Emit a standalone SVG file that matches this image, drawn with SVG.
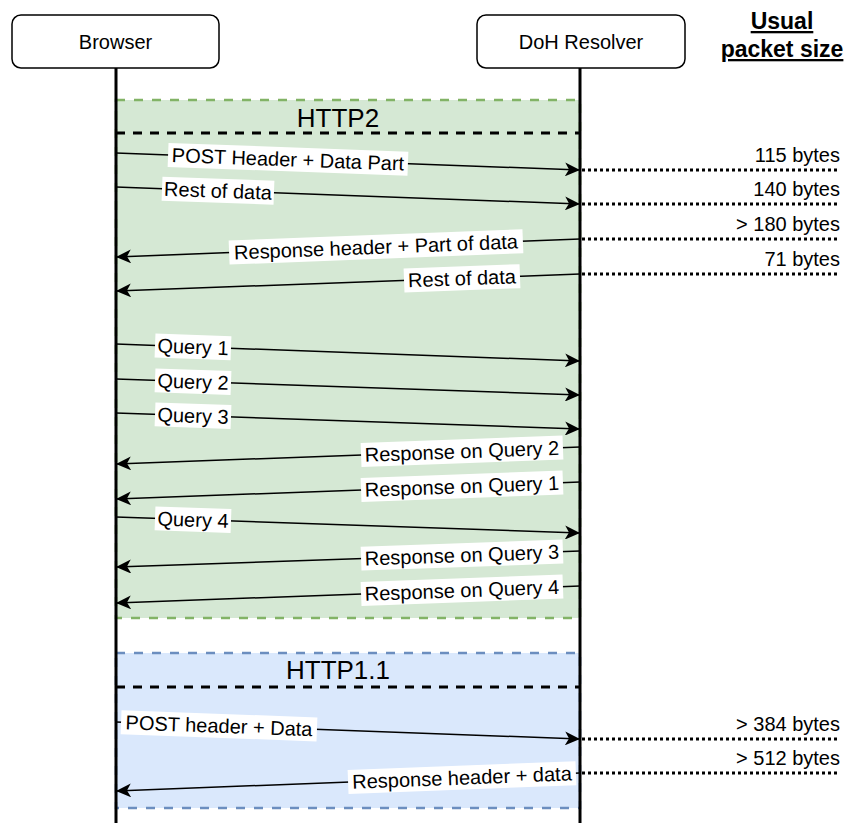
<svg xmlns="http://www.w3.org/2000/svg" width="852" height="823" viewBox="0 0 852 823">
<style>
text{font-family:"Liberation Sans",Arial,sans-serif;fill:#000}
.box{fill:#fff;stroke:#000;stroke-width:1.5}
.life{stroke:#000;stroke-width:3;fill:none}
.msg{stroke:#000;stroke-width:1.5;fill:none;marker-end:url(#arr)}
.lbl{font-size:20px;text-anchor:middle}
.lblbg{fill:#fff}
.dot{stroke:#000;stroke-width:3;stroke-dasharray:3 3;fill:none}
.size{font-size:20px;text-anchor:end}
.div{stroke:#000;stroke-width:3;stroke-dasharray:9 8;fill:none}
.title{font-size:26px;text-anchor:middle}
</style>
<defs>
<marker id="arr" markerUnits="userSpaceOnUse" markerWidth="16" markerHeight="14" viewBox="0 0 16 14" refX="15" refY="7" orient="auto">
<path d="M0,0 L15,7 L0,14 L4,7 Z" fill="#000"/>
</marker>
</defs>

<g id="http2-frame">
<rect x="116" y="100" width="464" height="518" fill="#d5e8d4" stroke="#82b366" stroke-width="2.5" stroke-dasharray="9 9"/>
<text class="title" x="338" y="127">HTTP2</text>
</g>
<g id="http11-frame">
<rect x="116" y="653" width="464" height="155" fill="#dae8fc" stroke="#6c8ebf" stroke-width="2.5" stroke-dasharray="9 9"/>
<text class="title" x="338" y="679">HTTP1.1</text>
</g>

<g id="lifelines">
<line class="life" x1="116" y1="68" x2="116" y2="823"/>
<line class="life" x1="580" y1="68" x2="580" y2="823"/>
</g>

<g id="dividers">
<line class="div" x1="116" y1="133" x2="580" y2="133"/>
<line class="div" x1="116" y1="687" x2="580" y2="687"/>
</g>

<g id="browser">
<rect class="box" x="12" y="15" width="207" height="53" rx="9"/>
<text x="115.5" y="49" font-size="20" text-anchor="middle">Browser</text>
</g>
<g id="doh-resolver">
<rect class="box" x="477" y="15" width="208" height="53" rx="9"/>
<text x="581" y="49" font-size="20" text-anchor="middle">DoH Resolver</text>
</g>
<g id="packet-size-header">
<text x="782" y="29" font-size="23" font-weight="bold" text-anchor="middle" text-decoration="underline">Usual</text>
<text x="782" y="57" font-size="23" font-weight="bold" text-anchor="middle" text-decoration="underline">packet size</text>
</g>

<g id="connectors">
<line class="msg" x1="116" y1="153" x2="580" y2="170"/>
<line class="msg" x1="116" y1="187" x2="580" y2="204"/>
<line class="msg" x1="580" y1="239" x2="116" y2="257"/>
<line class="msg" x1="580" y1="274" x2="116" y2="291"/>
<line class="msg" x1="116" y1="344" x2="580" y2="361"/>
<line class="msg" x1="116" y1="379" x2="580" y2="395"/>
<line class="msg" x1="116" y1="413" x2="580" y2="429"/>
<line class="msg" x1="580" y1="447" x2="116" y2="464"/>
<line class="msg" x1="580" y1="482" x2="116" y2="499"/>
<line class="msg" x1="116" y1="517" x2="580" y2="533"/>
<line class="msg" x1="580" y1="551" x2="116" y2="567"/>
<line class="msg" x1="580" y1="586" x2="116" y2="603"/>
<line class="msg" x1="116" y1="722" x2="580" y2="739"/>
<line class="msg" x1="580" y1="773" x2="116" y2="791"/>
<line class="dot" x1="582" y1="170" x2="840" y2="170"/>
<line class="dot" x1="582" y1="204" x2="840" y2="204"/>
<line class="dot" x1="582" y1="239" x2="840" y2="239"/>
<line class="dot" x1="582" y1="274" x2="840" y2="274"/>
<line class="dot" x1="582" y1="739" x2="840" y2="739"/>
<line class="dot" x1="582" y1="773" x2="840" y2="773"/>
</g>

<g id="labels">
<g transform="translate(288,159.3) rotate(2.1)"><rect class="lblbg" x="-120" y="-12" width="240" height="24"/><text class="lbl" y="7">POST Header + Data Part</text></g>
<g transform="translate(218,190.7) rotate(2.1)"><rect class="lblbg" x="-56" y="-12" width="112" height="24"/><text class="lbl" y="7">Rest of data</text></g>
<g transform="translate(376,246.9) rotate(-2.22)"><rect class="lblbg" x="-147" y="-12" width="294" height="24"/><text class="lbl" y="7">Response header + Part of data</text></g>
<g transform="translate(462,278.3) rotate(-2.1)"><rect class="lblbg" x="-58" y="-12" width="116" height="24"/><text class="lbl" y="7">Rest of data</text></g>
<g transform="translate(193,346.8) rotate(2.1)"><rect class="lblbg" x="-38" y="-12" width="76" height="24"/><text class="lbl" y="7">Query 1</text></g>
<g transform="translate(193,381.7) rotate(2.0)"><rect class="lblbg" x="-38" y="-12" width="76" height="24"/><text class="lbl" y="7">Query 2</text></g>
<g transform="translate(193,415.7) rotate(2.0)"><rect class="lblbg" x="-38" y="-12" width="76" height="24"/><text class="lbl" y="7">Query 3</text></g>
<g transform="translate(462,451.3) rotate(-2.1)"><rect class="lblbg" x="-101" y="-12" width="202" height="24"/><text class="lbl" y="7">Response on Query 2</text></g>
<g transform="translate(462,486.3) rotate(-2.1)"><rect class="lblbg" x="-101" y="-12" width="202" height="24"/><text class="lbl" y="7">Response on Query 1</text></g>
<g transform="translate(193,519.7) rotate(2.0)"><rect class="lblbg" x="-38" y="-12" width="76" height="24"/><text class="lbl" y="7">Query 4</text></g>
<g transform="translate(462,555.1) rotate(-2.0)"><rect class="lblbg" x="-101" y="-12" width="202" height="24"/><text class="lbl" y="7">Response on Query 3</text></g>
<g transform="translate(462,590.3) rotate(-2.1)"><rect class="lblbg" x="-101" y="-12" width="202" height="24"/><text class="lbl" y="7">Response on Query 4</text></g>
<g transform="translate(219,725.8) rotate(2.1)"><rect class="lblbg" x="-98" y="-12" width="196" height="24"/><text class="lbl" y="7">POST header + Data</text></g>
<g transform="translate(462,777.6) rotate(-2.22)"><rect class="lblbg" x="-114" y="-12" width="228" height="24"/><text class="lbl" y="7">Response header + data</text></g>
</g>

<g id="sizes">
<text class="size" x="840" y="162">115 bytes</text>
<text class="size" x="840" y="196">140 bytes</text>
<text class="size" x="840" y="231">&gt; 180 bytes</text>
<text class="size" x="840" y="266">71 bytes</text>
<text class="size" x="840" y="731">&gt; 384 bytes</text>
<text class="size" x="840" y="765">&gt; 512 bytes</text>
</g>
</svg>
